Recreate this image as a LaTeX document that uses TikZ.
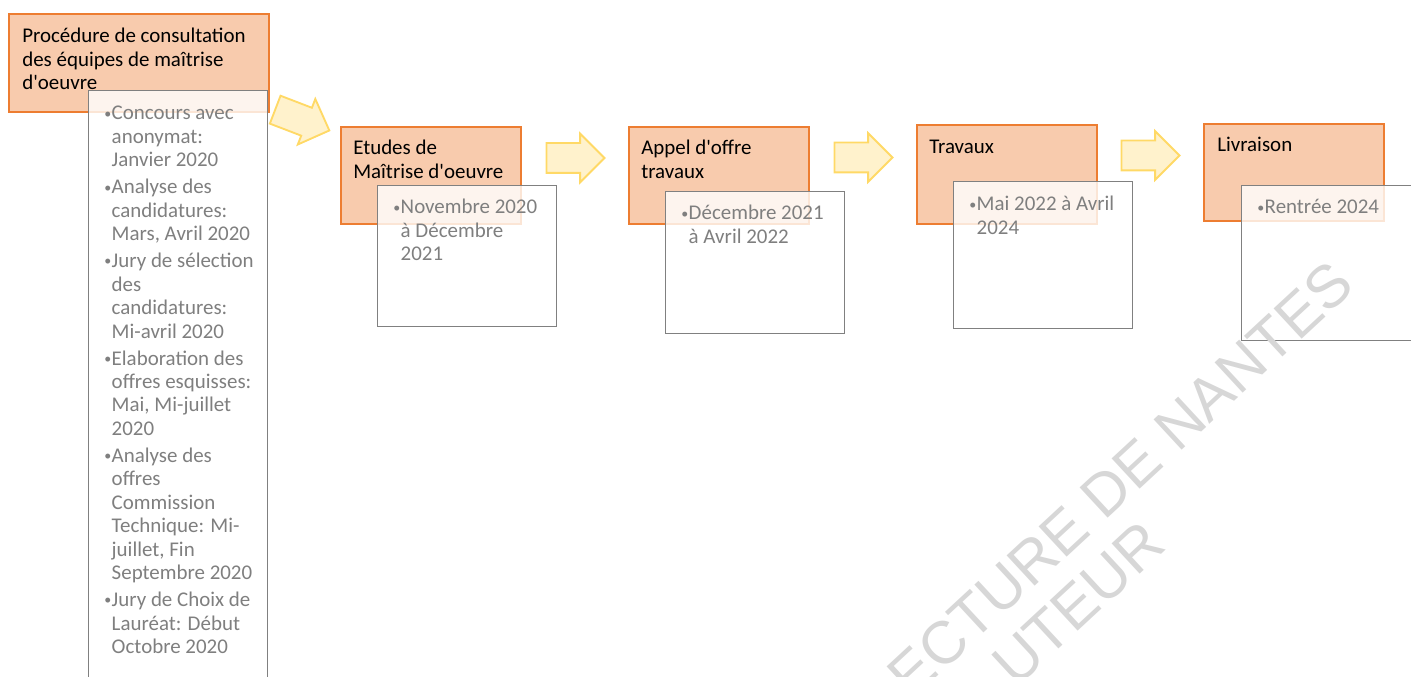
\documentclass[tikz,border=0pt]{standalone}
\usepackage{fontspec}
\setmainfont{Carlito}[Ligatures=TeXOff]
\newfontfamily\wmfont{Liberation Sans}
\usetikzlibrary{shapes.arrows}

\definecolor{phasefill}{RGB}{248,203,173}
\definecolor{phaseline}{RGB}{237,125,49}
\definecolor{detailline}{RGB}{128,128,128}
\definecolor{detailtext}{RGB}{127,127,127}
\definecolor{arrowfill}{RGB}{255,242,204}
\definecolor{arrowline}{RGB}{255,217,102}
\definecolor{wmgray}{RGB}{215,215,215}

\newcommand{\bodyfont}{\fontsize{15.7}{17.6}\selectfont}
\newcommand{\itemdot}{\raisebox{0.18ex}{\fontsize{10.5}{10.5}\selectfont\textbullet}}
\newcommand{\itm}[1]{\hangindent=5.6pt\hangafter=1\noindent\makebox[5.6pt][l]{\itemdot}#1\par\vspace{2.6pt}}

\begin{document}
\begin{tikzpicture}[x=0.75pt, y=-0.75pt]
  \tikzstyle{phase} = [rectangle, draw=phaseline, fill=phasefill, line width=1.4pt, anchor=north west, inner sep=0pt, minimum width=135pt, minimum height=72.5pt]
  \tikzstyle{detail} = [rectangle, draw=detailline, fill=white, fill opacity=0.8, line width=1pt, anchor=north west, inner sep=0pt, minimum width=134.25pt]
  \tikzstyle{title} = [anchor=base west, inner sep=0pt, text width=180pt, align=flush left, font=\bodyfont]
  \tikzstyle{items} = [anchor=base west, inner sep=0pt, text width=130pt, align=flush left, font=\bodyfont, text=detailtext]
  \tikzstyle{flow} = [single arrow, draw=arrowline, fill=arrowfill, line width=1.4pt, inner xsep=0pt, inner ysep=10.5pt, minimum height=43.5pt, minimum width=35.25pt, single arrow head extend=7.1pt]
  \tikzstyle{watermark} = [anchor=base east, inner sep=0pt, rotate=42.8, text=wmgray, font=\wmfont\fontsize{45}{45}\selectfont]

  \useasboundingbox (0,0) rectangle (1411,677);
  \clip (0,0) rectangle (1411,677);

  \node (p1) [phase, minimum width=195pt, minimum height=73.5pt] at (8,13) {};
  \node (p2) [phase] at (340,126) {};
  \node (p3) [phase] at (628,126) {};
  \node (p4) [phase, minimum height=74pt] at (916,124) {};
  \node (p5) [phase] at (1203,123) {};

  \node (t1) [title] at (22,43) {Procédure de consultation\\des équipes de maîtrise\\d'oeuvre};
  \node (t2) [title] at (353,155) {Etudes de\\Maîtrise d'oeuvre};
  \node (t3) [title] at (641,155) {Appel d'offre\\travaux};
  \node (t4) [title] at (929,154) {Travaux};
  \node (t5) [title] at (1217,152) {Livraison};

  \node (d1) [detail, minimum height=450pt] at (88,90) {};
  \node (d2) [detail, minimum height=105.75pt] at (377,185) {};
  \node (d3) [detail, minimum height=106.5pt] at (665,191) {};
  \node (d4) [detail, minimum height=110.25pt] at (953,181) {};
  \node (d5) [detail, minimum width=150pt, minimum height=116.25pt] at (1241,185) {};

  \node (i1) [items] at (104,120) {%
    \itm{Concours avec\newline anonymat:\newline Janvier 2020}
    \itm{Analyse des\newline candidatures:\newline Mars, Avril 2020}
    \itm{Jury de sélection\newline des\newline candidatures:\newline Mi-avril 2020}
    \itm{Elaboration des\newline offres esquisses:\newline Mai, Mi-juillet\newline 2020}
    \itm{Analyse des\newline offres\newline Commission\newline Technique: Mi-\newline juillet, Fin\newline Septembre 2020}
    \itm{Jury de Choix de\newline Lauréat: Début\newline Octobre 2020}};
  \node (i2) [items] at (393,214) {\itm{Novembre 2020\newline à Décembre\newline 2021}};
  \node (i3) [items] at (681,220) {\itm{Décembre 2021\newline à Avril 2022}};
  \node (i4) [items] at (969,211) {\itm{Mai 2022 à Avril\newline 2024}};
  \node (i5) [items] at (1257,214) {\itm{Rentrée 2024}};

  \node (a1) [flow, rotate=-21] at (295.3,117.4) {};
  \node (a2) [flow] at (568,158) {};
  \node (a3) [flow] at (856,157.5) {};
  \node (a4) [flow] at (1143,155.5) {};

  \node (w1) [watermark] at (1357,288) {ECTURE DE NANTES};
  \node (w2) [watermark] at (1168,548) {UTEUR};
\end{tikzpicture}
\end{document}
